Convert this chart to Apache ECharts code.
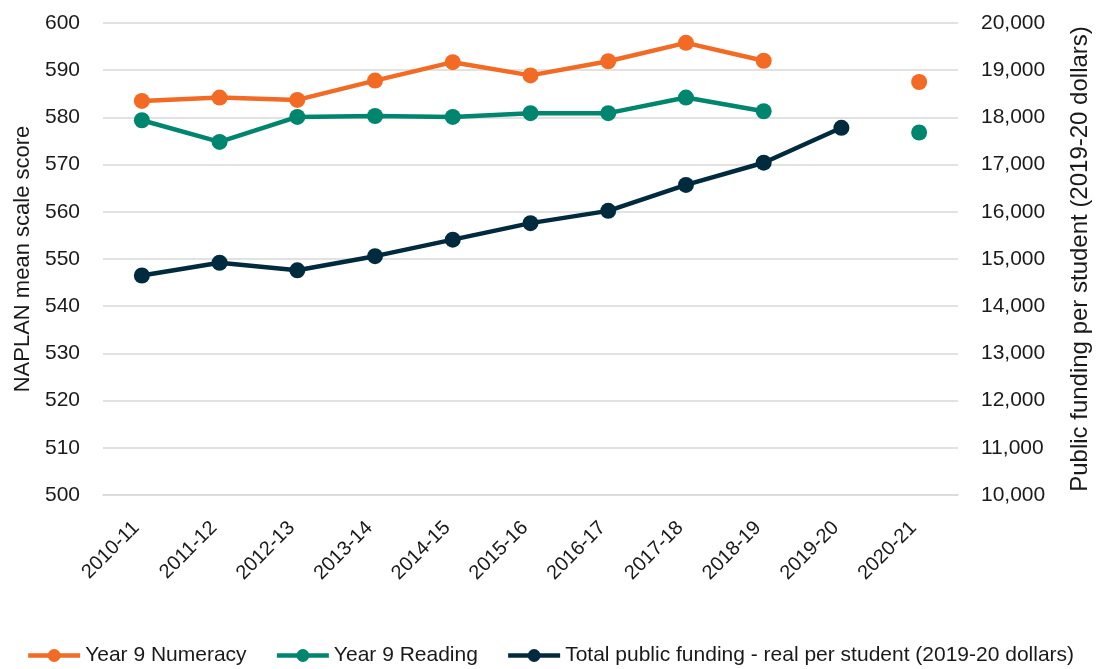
<!DOCTYPE html>
<html>
<head>
<meta charset="utf-8">
<script src="https://cdn.jsdelivr.net/npm/echarts@6/dist/echarts.min.js"></script>
<style>
html,body{margin:0;padding:0;background:#fff;}
#chart{width:1100px;height:669px;}
</style>
</head>
<body>
<div id="chart"></div>
<script>
const categories = ['2010-11','2011-12','2012-13','2013-14','2014-15','2015-16','2016-17','2017-18','2018-19','2019-20','2020-21'];
const numeracy = [583.5, 584.2, 583.7, 587.8, 591.7, 588.9, 591.9, 595.8, 592.0, null, 587.5];
const reading  = [579.4, 574.8, 580.1, 580.3, 580.1, 580.9, 580.9, 584.2, 581.3, null, 576.8];
const funding  = [14650, 14920, 14760, 15060, 15410, 15760, 16020, 16570, 17040, 17780, null];
const seriesNames = ['Year 9 Numeracy','Year 9 Reading','Total public funding - real per student (2019-20 dollars)'];

const FONT = '"Liberation Sans", Arial, sans-serif';
const TXT = '#1a1a1a';
const chart = echarts.init(document.getElementById('chart'), null, {renderer:'canvas'});
chart.setOption({
  animation:false,
  backgroundColor:'#ffffff',
  textStyle:{fontFamily:FONT},
  color:['#F26A24','#00856F','#002B3E'],
  grid:{left:103, right:138, top:23, height:472, containLabel:false},
  legend:{
    top:640, left:'center',
    itemWidth:52, itemHeight:16, itemGap:28,
    lineStyle:{width:4.5},
    textStyle:{fontFamily:FONT, fontSize:21, color:TXT},
    data:seriesNames
  },
  xAxis:{
    type:'category', data:categories, boundaryGap:true,
    axisLine:{show:true, lineStyle:{color:'#D9D9D9', width:1.5}},
    axisTick:{show:false},
    axisLabel:{rotate:45, margin:24, padding:[0,8,0,0], fontFamily:FONT, fontSize:20, color:TXT, interval:0}
  },
  yAxis:[{
    type:'value', min:500, max:600, interval:10,
    name:'NAPLAN mean scale score', nameLocation:'middle', nameRotate:90, nameGap:68,
    nameTextStyle:{fontFamily:FONT, fontSize:22, color:TXT},
    axisLine:{show:false}, axisTick:{show:false},
    axisLabel:{margin:23, fontFamily:FONT, fontSize:21, color:TXT},
    splitLine:{show:true, lineStyle:{color:'#D9D9D9', width:1.5}}
  },{
    type:'value', min:10000, max:20000, interval:1000, position:'right',
    name:'Public funding per student (2019-20 dollars)', nameLocation:'middle', nameRotate:90, nameGap:110,
    nameTextStyle:{fontFamily:FONT, fontSize:24, color:TXT},
    axisLine:{show:false}, axisTick:{show:false},
    axisLabel:{margin:23, fontFamily:FONT, fontSize:21, color:TXT,
      formatter:function(v){return v.toLocaleString('en-US');}},
    splitLine:{show:false}
  }],
  series:[{
    name:seriesNames[0], type:'line', yAxisIndex:0, data:numeracy,
    symbol:'circle', symbolSize:16, showSymbol:true, connectNulls:false,
    lineStyle:{width:4.5}
  },{
    name:seriesNames[1], type:'line', yAxisIndex:0, data:reading,
    symbol:'circle', symbolSize:16, showSymbol:true, connectNulls:false,
    lineStyle:{width:4.5}
  },{
    name:seriesNames[2], type:'line', yAxisIndex:1, data:funding,
    symbol:'circle', symbolSize:16, showSymbol:true, connectNulls:false,
    lineStyle:{width:4.5}
  }]
});
</script>
</body>
</html>
